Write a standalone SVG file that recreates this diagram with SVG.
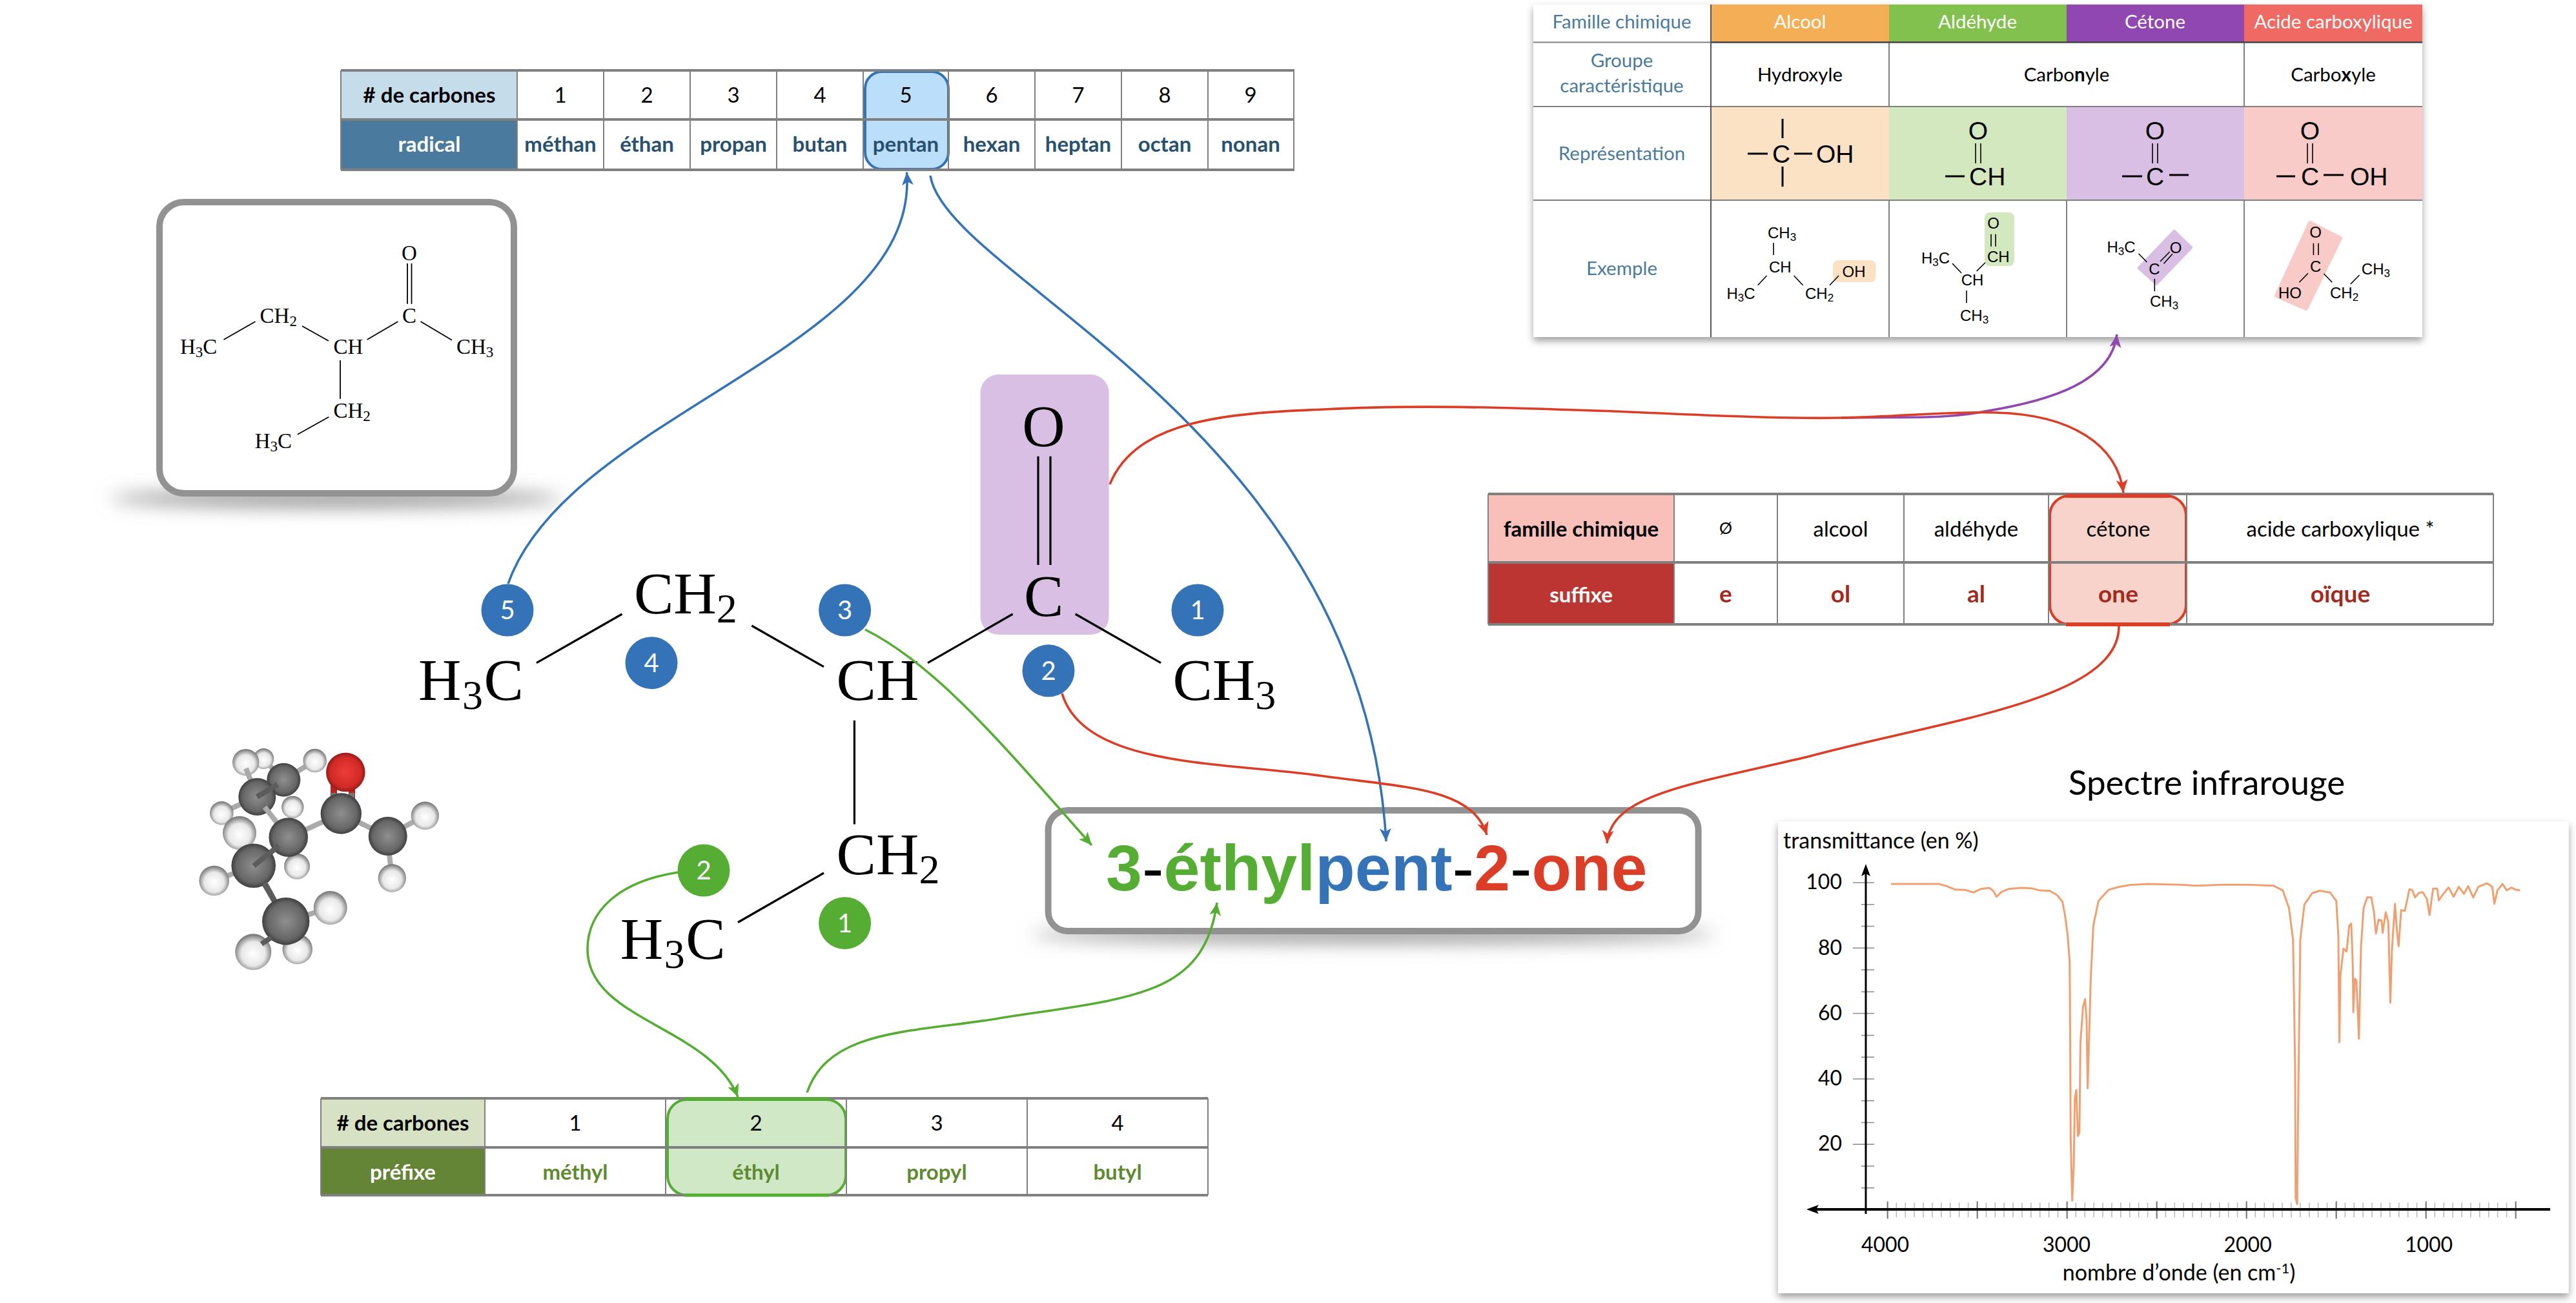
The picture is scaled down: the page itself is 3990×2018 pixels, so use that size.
<svg xmlns="http://www.w3.org/2000/svg" width="3990" height="2018" viewBox="0 0 3990 2018">
<style>
.t{font-family:"Lato","Noto Sans",sans-serif;text-anchor:middle;font-size:33px;fill:#000}
.b{font-weight:700}
.s{text-anchor:start}
.blue{fill:#4a7a9e}
.w{fill:#fff}
.hl{stroke-width:4}
.gl{stroke:#808080;stroke-width:2;fill:none}
.gt{stroke:#808080;stroke-width:4;fill:none}
.cm{font-family:"Liberation Serif",serif;font-size:33px;fill:#000}
.cmb{font-family:"Liberation Serif",serif;font-size:92px;fill:#000}
.cs{font-family:"Liberation Sans",Arial,sans-serif;font-size:39px;fill:#000}
.ce{font-family:"Liberation Sans",Arial,sans-serif;font-size:24px;fill:#000}
.mid{text-anchor:middle}
.bond{stroke:#000;stroke-width:1.6;fill:none}
.bondb{stroke:#000;stroke-width:3.2;fill:none}
.bonds{stroke:#000;stroke-width:1.8;fill:none}
.bondr{stroke:#000;stroke-width:3;fill:none}
.badge{font-family:"Lato",sans-serif;font-size:40px;fill:#fff;text-anchor:middle}
.cb{fill:#3573b8}.cg{fill:#55ad33}
.c{fill:none;stroke-width:3.6}
.fr{stroke:#db3d26}.fbl{stroke:#3573b8}.fgr{stroke:#55ad33}.fpu{stroke:#9147b0}
.frame{fill:#fff;stroke:#929292;stroke-width:10}
.bl{stroke:#aaa;stroke-width:8;fill:none}
.bd{stroke:#5c5c5c;stroke-width:8;fill:none}
.H{fill:url(#gH)}.C{fill:url(#gC)}.O{fill:url(#gO)}
.f295{font-size:29.500px}
</style>
<defs>
<marker id="aB" viewBox="0 0 20 20" markerWidth="20" markerHeight="20" refX="20" refY="10" orient="auto" markerUnits="userSpaceOnUse"><path d="M20,10 L0,1 L5,10 L0,19 Z" fill="#3573b8"/></marker>
<marker id="aG" viewBox="0 0 20 20" markerWidth="20" markerHeight="20" refX="20" refY="10" orient="auto" markerUnits="userSpaceOnUse"><path d="M20,10 L0,1 L5,10 L0,19 Z" fill="#55ad33"/></marker>
<marker id="aR" viewBox="0 0 20 20" markerWidth="20" markerHeight="20" refX="20" refY="10" orient="auto" markerUnits="userSpaceOnUse"><path d="M20,10 L0,1 L5,10 L0,19 Z" fill="#db3d26"/></marker>
<marker id="aP" viewBox="0 0 20 20" markerWidth="20" markerHeight="20" refX="20" refY="10" orient="auto" markerUnits="userSpaceOnUse"><path d="M20,10 L0,1 L5,10 L0,19 Z" fill="#9147b0"/></marker>
<filter id="sh" x="-5%" y="-5%" width="110%" height="112%"><feDropShadow dx="0" dy="6" stdDeviation="6" flood-color="#000" flood-opacity=".38"/></filter>
<filter id="bl" x="-20%" y="-200%" width="140%" height="500%"><feGaussianBlur stdDeviation="14"/></filter>
<radialGradient id="gH" cx=".5" cy=".55" r=".55"><stop offset="0" stop-color="#fff"/><stop offset=".6" stop-color="#e8e8e8"/><stop offset="1" stop-color="#6e6e6e"/></radialGradient>
<radialGradient id="gC" cx=".5" cy=".5" r=".55"><stop offset="0" stop-color="#8f8f8f"/><stop offset=".7" stop-color="#666"/><stop offset="1" stop-color="#2f2f2f"/></radialGradient>
<radialGradient id="gO" cx=".5" cy=".5" r=".55"><stop offset="0" stop-color="#ee3d38"/><stop offset=".7" stop-color="#d22a26"/><stop offset="1" stop-color="#7a1512"/></radialGradient>
</defs>
<rect width="3990" height="2018" fill="#fff"/>

<g id="table-radical">
<rect x="528" y="109" width="273" height="76" fill="#c5dceb"/>
<rect x="528" y="185" width="273" height="78" fill="#4a7a9e"/>
<rect x="1340" y="111" width="129" height="151" rx="26" fill="#bbdefb" stroke="#3573b8" class="hl"/>
<path class="gl" d="M528,109V263M801,109V263M935,109V263M1069,109V263M1203,109V263M1337,109V263M1469,109V263M1603,109V263M1737,109V263M1871,109V263M2004,109V263"/>
<path class="gt" d="M528,109H2005M528,185H2005M528,263H2005"/>
<text class="t b" x="665" y="159"># de carbones</text>
<text class="t" x="868" y="159">1</text><text class="t" x="1002" y="159">2</text><text class="t" x="1136" y="159">3</text><text class="t" x="1270" y="159">4</text><text class="t" x="1403" y="159">5</text><text class="t" x="1536" y="159">6</text><text class="t" x="1670" y="159">7</text><text class="t" x="1804" y="159">8</text><text class="t" x="1937" y="159">9</text>
<text class="t b w" x="665" y="235">radical</text>
<text class="t b" style="fill:#28506f" x="868" y="235">méthan</text><text class="t b" style="fill:#28506f" x="1002" y="235">éthan</text><text class="t b" style="fill:#28506f" x="1136" y="235">propan</text><text class="t b" style="fill:#28506f" x="1270" y="235">butan</text><text class="t b" style="fill:#28506f" x="1403" y="235">pentan</text><text class="t b" style="fill:#28506f" x="1536" y="235">hexan</text><text class="t b" style="fill:#28506f" x="1670" y="235">heptan</text><text class="t b" style="fill:#28506f" x="1804" y="235">octan</text><text class="t b" style="fill:#28506f" x="1937" y="235">nonan</text>
</g>

<g id="table-prefixe">
<rect x="497" y="1701" width="254" height="76" fill="#d7e2c4"/>
<rect x="497" y="1777" width="254" height="74" fill="#638535"/>
<rect x="1034" y="1703" width="276" height="148" rx="30" fill="#d0e8c6" stroke="#55ad33" class="hl"/>
<path class="gl" d="M497,1701V1851M751,1701V1851M1031,1701V1851M1311,1701V1851M1591,1701V1851M1871,1701V1851"/>
<path class="gt" d="M497,1701H1871M497,1777H1871M497,1851H1871"/>
<path d="M1060,1702H1284M1060,1851H1284" stroke="#55ad33" stroke-width="5"/>
<text class="t b" x="624" y="1751"># de carbones</text>
<text class="t" x="891" y="1751">1</text><text class="t" x="1171" y="1751">2</text><text class="t" x="1451" y="1751">3</text><text class="t" x="1731" y="1751">4</text>
<text class="t b w" x="624" y="1827">préfixe</text>
<text class="t b" style="fill:#5f8a2f" x="891" y="1827">méthyl</text><text class="t b" style="fill:#5f8a2f" x="1171" y="1827">éthyl</text><text class="t b" style="fill:#5f8a2f" x="1451" y="1827">propyl</text><text class="t b" style="fill:#5f8a2f" x="1731" y="1827">butyl</text>
</g>

<g id="table-suffixe">
<rect x="2305" y="765" width="288" height="106" fill="#f8c0b9"/>
<rect x="2305" y="871" width="288" height="96" fill="#bb3632"/>
<rect x="3175" y="768" width="211" height="199" rx="30" fill="#f8d3cb" stroke="#db3d26" class="hl"/>
<path class="gl" d="M2305,765V967M2593,765V967M2753,765V967M2949,765V967M3173,765V967M3387,765V967M3862,765V967"/>
<path class="gt" d="M2305,765H3862M2305,871H3862M2305,967H3862"/>
<path d="M3200,768H3361M3200,967H3361" stroke="#db3d26" stroke-width="6"/>
<text class="t b" x="2449" y="831">famille chimique</text>
<text class="t" style="font-size:25px" x="2673" y="827">Ø</text><text class="t" x="2851" y="831">alcool</text><text class="t" x="3061" y="831">aldéhyde</text><text class="t" x="3281" y="831">cétone</text><text class="t" x="3625" y="831">acide carboxylique *</text>
<text class="t b w" x="2449" y="933">suffixe</text>
<text class="t b" style="fill:#a32a20;font-size:37px" x="2673" y="933">e</text><text class="t b" style="fill:#a32a20;font-size:37px" x="2851" y="933">ol</text><text class="t b" style="fill:#a32a20;font-size:37px" x="3061" y="933">al</text><text class="t b" style="fill:#a32a20;font-size:37px" x="3281" y="933">one</text><text class="t b" style="fill:#a32a20;font-size:37px" x="3625" y="933">oïque</text>
</g>

<g id="table-familles">
<rect x="2375" y="7" width="1377" height="515" fill="#fff" filter="url(#sh)"/>
<rect x="2650" y="7" width="276" height="58" fill="#f4af56"/><rect x="2926" y="7" width="275" height="58" fill="#83c14f"/><rect x="3201" y="7" width="275" height="58" fill="#9147b0"/><rect x="3476" y="7" width="276" height="58" fill="#ee6a62"/>
<rect x="2650" y="165" width="276" height="145" fill="#fbe2c5"/><rect x="2926" y="165" width="275" height="145" fill="#d4e8c0"/><rect x="3201" y="165" width="275" height="145" fill="#d9bfe4"/><rect x="3476" y="165" width="276" height="145" fill="#f9cbc8"/>
<path class="gl" d="M2375,65.500H2650M2375,165H3752M2375,310H3752M2926,65V165M2926,310V522M3201,310V522M3476,65V165M3476,310V522"/>
<path d="M2650,65.500H3752" stroke="#444" stroke-width="2.500"/>
<path d="M2650,7V522" stroke="#555" stroke-width="2"/>
<text class="t blue f295" x="2512" y="44">Famille chimique</text>
<text class="t w f295" x="2788" y="44">Alcool</text><text class="t w f295" x="3063" y="44">Aldéhyde</text><text class="t w f295" x="3338" y="44">Cétone</text><text class="t w f295" x="3614" y="44">Acide carboxylique</text>
<text class="t blue f295" x="2512" y="104">Groupe</text><text class="t blue f295" x="2512" y="143">caractéristique</text>
<text class="t f295" x="2788" y="126">Hydroxyle</text>
<text class="t f295" x="3201" y="126">Carbo<tspan class="b">n</tspan>yle</text>
<text class="t f295" x="3614" y="126">Carbo<tspan class="b">x</tspan>yle</text>
<text class="t blue f295" x="2512" y="248">Représentation</text>
<text class="t blue f295" x="2512" y="426">Exemple</text>
<g>
<text class="cs mid" x="2759" y="252">C</text><text class="cs" x="2813" y="252">OH</text>
<path class="bondr" d="M2707,238H2738M2779,238H2807M2761,184V214M2761,258V289"/>
<text class="cs mid" x="3064" y="216">O</text><text class="cs" x="3050" y="287">CH</text>
<path class="bond" d="M3060,222V253M3068,222V253"/><path class="bondr" d="M3013,273H3043"/>
<text class="cs mid" x="3338" y="216">O</text><text class="cs mid" x="3338" y="287">C</text>
<path class="bond" d="M3334,222V253M3342,222V253"/><path class="bondr" d="M3287,273H3318M3360,271H3390"/>
<text class="cs mid" x="3578" y="216">O</text><text class="cs mid" x="3578" y="287">C</text><text class="cs" x="3640" y="287">OH</text>
<path class="bond" d="M3574,222V253M3582,222V253"/><path class="bondr" d="M3526,273H3555M3599,271H3630"/>
</g>
<g>
<rect x="2839" y="403" width="66.500" height="34" rx="8" fill="#fbe2c5"/>
<text class="ce" x="2738" y="369">CH<tspan font-size="17" dy="4">3</tspan></text>
<text class="ce" x="2740" y="422">CH</text><text class="ce" x="2853.600" y="429">OH</text>
<text class="ce" x="2674.500" y="463">H<tspan font-size="17" dy="4">3</tspan><tspan dy="-4">C</tspan></text>
<text class="ce" x="2796" y="463">CH<tspan font-size="17" dy="4">2</tspan></text>
<path class="bond" d="M2747,376V395M2736.500,427L2722.700,441.700M2778.700,427L2792.500,441.700M2848,427L2834,441.700"/>
<rect x="3074" y="329" width="46" height="83" rx="8" fill="#d4e8c0"/>
<text class="ce" x="2976" y="408">H<tspan font-size="17" dy="4">3</tspan><tspan dy="-4">C</tspan></text>
<text class="ce" x="3037.700" y="442">CH</text><text class="ce" x="3036" y="497">CH<tspan font-size="17" dy="4">3</tspan></text>
<text class="ce mid" x="3087.500" y="354">O</text><text class="ce" x="3078" y="405.700">CH</text>
<path class="bond" d="M3024,408L3038,422.700M3046,450V469M3061.600,420L3075,406.700M3084,362.700V381.700M3091,362.700V381.700"/>
<path d="M3367.600,359L3392.900,383.300L3340,438.300L3313.900,415Z" fill="#d9bfe4" stroke="#d9bfe4" stroke-width="6" stroke-linejoin="round"/>
<text class="ce" x="3263.400" y="391">H<tspan font-size="17" dy="4">3</tspan><tspan dy="-4">C</tspan></text>
<text class="ce mid" x="3337" y="425">C</text><text class="ce mid" x="3370" y="391.700">O</text><text class="ce" x="3330" y="475">CH<tspan font-size="17" dy="4">3</tspan></text>
<path class="bond" d="M3312.500,392.700L3325.400,406M3346,405L3360.700,390M3351.500,408.300L3365,393.300M3337.300,431.700V451"/>
<path d="M3578,345L3625,369L3572,478L3526,458Z" fill="#f9cbc8" stroke="#f9cbc8" stroke-width="6" stroke-linejoin="round"/>
<text class="ce mid" x="3586.600" y="367.700">O</text><text class="ce mid" x="3586.600" y="420.700">C</text><text class="ce" x="3529" y="461.700">HO</text>
<text class="ce" x="3609" y="462">CH<tspan font-size="17" dy="4">2</tspan></text><text class="ce" x="3657.800" y="425">CH<tspan font-size="17" dy="4">3</tspan></text>
<path class="bond" d="M3583.400,376.700V395M3591,376.700V395M3575,423.300L3561.400,437.300M3599.500,424L3612.300,437.300M3654.600,426L3640.800,440"/>
</g>
</g>

<g id="structure-box">
<ellipse cx="521" cy="772" rx="350" ry="14" fill="#999" filter="url(#bl)"/>
<rect class="frame" x="247" y="313" width="549" height="451" rx="38"/>
<text class="cm mid" x="634" y="403">O</text><text class="cm mid" x="634" y="500">C</text>
<text class="cm" x="402.600" y="500">CH<tspan font-size="23" dy="5">2</tspan></text>
<text class="cm" x="279" y="547.700">H<tspan font-size="23" dy="5">3</tspan><tspan dy="-5">C</tspan></text>
<text class="cm" x="516.400" y="547.700">CH</text>
<text class="cm" x="707" y="547.700">CH<tspan font-size="23" dy="5">3</tspan></text>
<text class="cm" x="516.400" y="646.700">CH<tspan font-size="23" dy="5">2</tspan></text>
<text class="cm" x="394.700" y="694">H<tspan font-size="23" dy="5">3</tspan><tspan dy="-5">C</tspan></text>
<path class="bonds" d="M631,408V470.700M637.500,408V470.700M346.500,526L395.500,498M468,505L509,528M568.600,526L616.400,498M651.600,498L700,526.700M527,558V617.700M461,672.700L509.300,645.700"/>
</g>

<g id="molecule">
<path class="bl" d="M439,1208L408,1175M439,1208L488,1178"/>
<circle class="H" cx="408.300" cy="1175" r="16"/>
<circle class="H" cx="487.700" cy="1178" r="18.300"/>
<circle class="H" cx="380.700" cy="1180.700" r="20.700"/>
<circle class="C" cx="439.300" cy="1207.700" r="26"/>
<circle class="H" cx="453.300" cy="1250" r="17.300"/>
<path class="bl" d="M398,1234L381,1190M398,1234L343,1259"/>
<circle class="C" cx="398.300" cy="1234" r="29"/>
<path class="bd" d="M398,1234L430,1215"/>
<circle class="H" cx="343.300" cy="1259.300" r="18.300"/>
<path d="M517,1200V1240M545,1200V1240" stroke="#b52320" stroke-width="10"/>
<circle class="O" cx="535.300" cy="1196" r="30.300"/>
<path d="M517,1228V1245M545,1228V1245" stroke="#777" stroke-width="8"/>
<path class="bl" d="M528,1260L600,1295M600,1295L658,1263M600,1295L607,1360"/>
<circle class="H" cx="658.300" cy="1263.300" r="21.700"/>
<circle class="H" cx="607.300" cy="1360" r="21.700"/>
<circle class="C" cx="600.700" cy="1295" r="30"/>
<path class="bl" d="M447,1297L528,1260M410,1250L447,1297"/>
<circle class="C" cx="528.300" cy="1260" r="31.700"/>
<circle class="H" cx="460" cy="1341.700" r="20"/>
<circle class="C" cx="446.700" cy="1296.700" r="30.300"/>
<circle class="H" cx="371" cy="1290" r="26"/>
<path class="bl" d="M393,1341L332,1364M393,1341L384,1312"/>
<path class="bd" d="M393,1341L432,1310M393,1341L443,1427"/>
<circle class="C" cx="392.700" cy="1340.700" r="34.300"/>
<path class="bd" d="M410,1367L443,1427M393,1341L430,1311"/>
<circle class="H" cx="331.700" cy="1364" r="23.300"/>
<path class="bl" d="M443,1427L512,1406"/>
<circle class="H" cx="511.700" cy="1406" r="26"/>
<circle class="H" cx="460.700" cy="1470" r="23.300"/>
<circle class="C" cx="442.700" cy="1426.700" r="36.700"/>
<circle class="H" cx="392.300" cy="1474.300" r="28"/>
<path class="bd" d="M420,1452L405,1462"/>
</g>

<g id="formule">
<rect x="1518.600" y="580" width="199" height="403" rx="28" fill="#d9bfe4"/>
<text class="cmb mid" x="1616.600" y="691">O</text><text class="cmb mid" x="1616.600" y="954">C</text>
<text class="cmb" x="982" y="950">CH<tspan font-size="64" dy="14">2</tspan></text>
<text class="cmb" x="648" y="1084" letter-spacing="1.500">H<tspan font-size="64" dy="14">3</tspan><tspan dy="-14">C</tspan></text>
<text class="cmb" x="1295.600" y="1084">CH</text>
<text class="cmb" x="1816.500" y="1084">CH<tspan font-size="64" dy="14">3</tspan></text>
<text class="cmb" x="1295.600" y="1354">CH<tspan font-size="64" dy="14">2</tspan></text>
<text class="cmb" x="960.800" y="1485" letter-spacing="1.500">H<tspan font-size="64" dy="14">3</tspan><tspan dy="-14">C</tspan></text>
<path class="bondb" d="M1608,706.700V875M1627,706.700V875M831,1026.700L963.500,951M1164.300,969L1276,1032.700M1437,1026.700L1568.600,951M1665.700,951L1798,1026.700M1323.400,1115.800V1276.400M1143,1428.500L1276,1352"/>
</g>

<g id="badge-b5"><circle class="cb" cx="786" cy="945" r="40.500"/><text class="badge" x="786" y="959">5</text></g>
<g id="badge-b4"><circle class="cb" cx="1009" cy="1026.700" r="40.500"/><text class="badge" x="1009" y="1041">4</text></g>
<g id="badge-b3"><circle class="cb" cx="1308.600" cy="945" r="40.500"/><text class="badge" x="1308.600" y="959">3</text></g>
<g id="badge-b1"><circle class="cb" cx="1855" cy="945" r="40.500"/><text class="badge" x="1855" y="959">1</text></g>
<g id="badge-b2"><circle class="cb" cx="1624" cy="1038.800" r="40.500"/><text class="badge" x="1624" y="1053">2</text></g>
<g id="badge-g2"><circle class="cg" cx="1090" cy="1348" r="40.500"/><text class="badge" x="1090" y="1362">2</text></g>
<g id="badge-g1"><circle class="cg" cx="1308.600" cy="1429.700" r="40.500"/><text class="badge" x="1308.600" y="1444">1</text></g>

<g id="nom">
<ellipse cx="2127" cy="1447" rx="530" ry="13" fill="#999" filter="url(#bl)"/>
<rect class="frame" x="1623.600" y="1255" width="1007" height="187" rx="30"/>
<text x="1713" y="1379" font-family="'Liberation Sans',Arial,sans-serif" font-weight="700" font-size="100.600"><tspan fill="#55ad33">3</tspan><tspan fill="#000" font-weight="400">-</tspan><tspan fill="#55ad33">éthyl</tspan><tspan fill="#3573b8">pent</tspan><tspan fill="#000" font-weight="400">-</tspan><tspan fill="#db3d26">2</tspan><tspan fill="#000" font-weight="400">-</tspan><tspan fill="#db3d26">one</tspan></text>
</g>

<g id="spectre">
<text class="t" style="font-size:53px" x="3418" y="1231">Spectre infrarouge</text>
<rect x="2754" y="1272" width="1224.600" height="731" fill="#fff" filter="url(#sh)"/>
<text class="t s" style="font-size:34px" x="2762" y="1314">transmittance (en %)</text>
<path d="M2870,1367H2903M2883,1400.800H2903M2883,1434.500H2903M2870,1468.300H2903M2883,1502H2903M2883,1535.900H2903M2870,1569.600H2903M2883,1603.400H2903M2883,1637.200H2903M2870,1670.900H2903M2883,1704.700H2903M2883,1738.500H2903M2870,1772.200H2903M2883,1806H2903M2883,1839.800H2903" stroke="#8a8a8a" stroke-width="1.500" fill="none"/>
<path d="M2922.700,1874H3898" stroke="#b8b8b8" stroke-width="23" stroke-dasharray="1.500 12.400" fill="none"/>
<path d="M2922.700,1874H3898" stroke="#777" stroke-width="27" stroke-dasharray="2 137" fill="none"/>
<path d="M2890,1345V1880" stroke="#000" stroke-width="3" fill="none"/>
<path d="M2890,1338l-7,19 7,-4 7,4Z" fill="#000"/>
<path d="M2810,1873H3950" stroke="#000" stroke-width="4" fill="none"/>
<path d="M2798,1873l19,-7 -4,7 4,7Z" fill="#000"/>
<g transform="translate(2740 1160) scale(.7974 .5473)"><polyline vector-effect="non-scaling-stroke" fill="none" stroke="#f0a070" stroke-width="3" stroke-linejoin="round" points="237,382 330,382 345,388 362,398 382,399 397,406 412,396 428,393 436,402 442,418 450,406 465,396 490,393 510,394 525,400 545,401 560,414 570,432 575,470 580,525 584,600 585,800 586,1100 589,1278 592,1180 594,990 597,965 600,1095 603,1085 605,830 610,730 614,708 617,770 619,960 621,860 625,650 630,500 640,430 660,398 680,390 700,385 735,382 800,384 830,387 880,384 930,384 980,387 998,400 1010,450 1018,540 1022,900 1023,1270 1026,1288 1028,1000 1032,540 1040,440 1055,408 1070,401 1090,406 1102,430 1106,530 1108,830 1110,640 1116,565 1122,573 1127,500 1131,494 1134,610 1135,745 1138,650 1141,655 1146,820 1150,560 1155,450 1162,420 1170,420 1175,460 1179,522 1184,483 1190,485 1192,520 1198,462 1203,490 1207,718 1210,570 1216,438 1220,520 1223,558 1228,456 1235,458 1240,425 1244,397 1250,400 1255,420 1262,408 1270,405 1278,425 1283,470 1290,395 1298,395 1301,428 1310,410 1320,392 1330,418 1340,390 1350,410 1358,388 1368,420 1378,390 1395,380 1405,390 1409,438 1415,400 1425,382 1433,400 1442,392 1450,398 1459,400"/></g>
<text class="t" style="text-anchor:end;font-size:32px" x="2853" y="1377">100</text><text class="t" style="text-anchor:end;font-size:32px" x="2853" y="1479">80</text><text class="t" style="text-anchor:end;font-size:32px" x="2853" y="1580">60</text><text class="t" style="text-anchor:end;font-size:32px" x="2853" y="1681">40</text><text class="t" style="text-anchor:end;font-size:32px" x="2853" y="1782">20</text>
<text class="t" style="font-size:32px" x="2920" y="1939">4000</text><text class="t" style="font-size:32px" x="3201" y="1939">3000</text><text class="t" style="font-size:32px" x="3481.600" y="1939">2000</text><text class="t" style="font-size:32px" x="3762" y="1939">1000</text>
<text class="t" style="font-size:34px" x="3375" y="1983">nombre d’onde (en cm<tspan font-size="22" dy="-11">-1</tspan><tspan dy="11">)</tspan></text>
</g>

<g id="connectors">
<path class="c fbl" marker-end="url(#aB)" d="M787,904C880,640 1425,540 1404.500,266.700"/>
<path class="c fbl" d="M1441,272C1465,430 2110,660 2147,1303" marker-end="url(#aB)"/>
<path class="c fgr" marker-end="url(#aG)" d="M1340,975C1450,1030 1550,1150 1691,1309"/>
<path class="c fgr" marker-end="url(#aG)" d="M1050,1351C960,1365 910,1410 910,1470C910,1580 1100,1590 1143,1699"/>
<path class="c fgr" marker-end="url(#aG)" d="M1250,1692C1285,1590 1420,1600 1560,1575C1760,1545 1865,1540 1885,1398"/>
<path class="c fr" marker-end="url(#aR)" d="M1645,1074C1680,1190 1900,1180 2050,1202C2180,1220 2280,1220 2303,1293"/>
<path class="c fr" marker-end="url(#aR)" d="M3282,968C3285,1085 3010,1115 2800,1172C2620,1215 2495,1230 2489,1306"/>
<path class="c fpu" marker-end="url(#aP)" d="M2852,647C2950,645 3010,650 3075,637C3180,620 3270,590 3279,518"/>
<path class="c fr" marker-end="url(#aR)" d="M1719,750C1760,650 1900,640 2050,634C2200,626 2350,632 2500,637C2620,642 2760,649 2852,647C2950,645 3010,637 3091,639C3210,642 3280,690 3289,763"/>
</g>
</svg>
